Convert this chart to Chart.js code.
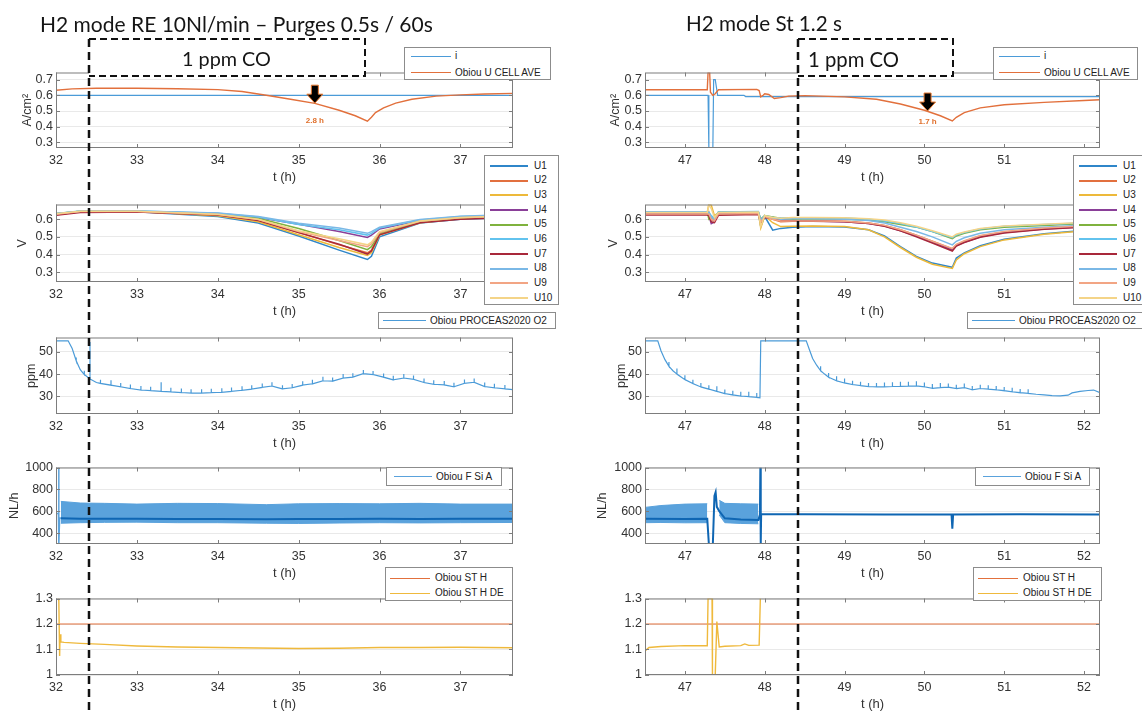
<!DOCTYPE html>
<html>
<head>
<meta charset="utf-8">
<script src="https://cdn.jsdelivr.net/npm/chart.js@4.4.1/dist/chart.umd.min.js"></script>
<style>
  html, body { margin: 0; padding: 0; background: #fff; }
  body { width: 1142px; height: 711px; position: relative; overflow: hidden; font-family: "Liberation Sans", Arial, sans-serif; }
  #overlay { position: absolute; left: 0; top: 0; z-index: 3; pointer-events: none; }
  .leg { position: absolute; z-index: 4; background: #fff; border: 1px solid #8c8c8c; box-sizing: border-box; font-size: 10px; color: #222; }
  .leg .ln { position: absolute; height: 0; }
  .leg .tx { position: absolute; white-space: nowrap; line-height: 12px; }
  .ttl { position: absolute; z-index: 4; font-family: Lato, "Open Sans", sans-serif; line-height: 1; white-space: nowrap; color: #151515; }
</style>
</head>
<body>
<canvas id="overlay" width="1142" height="711"></canvas>
<script>
// ---- ticks ----
const xTicksLeft = [32, 33, 34, 35, 36, 37];
const xTicksRight = [47, 48, 49, 50, 51, 52];
const yTicksCell = [0.3, 0.4, 0.5, 0.6, 0.7];
const yTicksU = [0.3, 0.4, 0.5, 0.6];
const yTicksO2 = [30, 40, 50];
const yTicksFlow = [400, 600, 800, 1000];
const yTicksST = [1, 1.1, 1.2, 1.3];

// CO injection start (h)
const coTimeLeft = 32.41;
const coTimeRight = 48.42;

// ---- panel 1 : i and U cell average ----
const iLeftT = [32, 37.65];
const iLeft = [0.6, 0.6];
const cellLeftT = [32.0, 32.2, 32.5, 33.0, 33.5, 34.0, 34.3, 34.6, 34.9, 35.2, 35.5, 35.7, 35.85, 35.9, 35.95, 36.05, 36.2, 36.4, 36.7, 37.0, 37.3, 37.65];
const cellLeft = [0.632, 0.641, 0.645, 0.645, 0.642, 0.636, 0.624, 0.6, 0.575, 0.549, 0.505, 0.47, 0.435, 0.46, 0.49, 0.52, 0.55, 0.575, 0.595, 0.603, 0.608, 0.612];
const iRightT = [46.5, 47.29, 47.3, 47.35, 47.36, 47.38, 47.41, 47.74, 47.76, 52.2];
const iRight = [0.6, 0.6, 0.26, 0.26, 0.7, 0.7, 0.6, 0.6, 0.592, 0.592];
const cellRightT = [46.5, 47.28, 47.29, 47.31, 47.32, 47.35, 47.38, 47.42, 47.9, 47.93, 47.95, 47.98, 48.0, 48.05, 48.12, 48.2, 48.3, 48.5, 49.0, 49.4, 49.7, 50.0, 50.2, 50.35, 50.4, 50.5, 50.7, 51.0, 51.5, 52.0, 52.2];
const cellRight = [0.635, 0.635, 0.745, 0.745, 0.62, 0.6, 0.61, 0.635, 0.638, 0.63, 0.59, 0.6, 0.61, 0.605, 0.58, 0.585, 0.595, 0.598, 0.59, 0.575, 0.545, 0.505, 0.47, 0.437, 0.46, 0.49, 0.52, 0.54, 0.555, 0.567, 0.572];
const arrowsLeft = [{ t: 35.2, v: 0.55, text: '2.8 h', dy: 18 }];
const arrowsRight = [{ t: 50.04, v: 0.5, text: '1.7 h', dy: 11 }];

// ---- panel 2 : cell voltages U1..U10 ----
const uLabels = ['U1', 'U2', 'U3', 'U4', 'U5', 'U6', 'U7', 'U8', 'U9', 'U10'];
const uLeftT = [32, 32.3, 33, 34, 34.5, 35, 35.5, 35.85, 35.9, 36, 36.5, 37, 37.65];
const uLeft = [
  [0.628, 0.642, 0.642, 0.615, 0.578, 0.505, 0.425, 0.372, 0.39, 0.5, 0.578, 0.6, 0.61],
  [0.627, 0.642, 0.642, 0.624, 0.594, 0.525, 0.455, 0.41, 0.425, 0.515, 0.582, 0.604, 0.614],
  [0.632, 0.645, 0.644, 0.62, 0.585, 0.512, 0.44, 0.395, 0.41, 0.51, 0.58, 0.602, 0.612],
  [0.625, 0.642, 0.643, 0.632, 0.61, 0.572, 0.53, 0.497, 0.51, 0.545, 0.592, 0.612, 0.622],
  [0.63, 0.645, 0.645, 0.63, 0.605, 0.547, 0.48, 0.428, 0.445, 0.52, 0.585, 0.606, 0.616],
  [0.632, 0.646, 0.646, 0.634, 0.612, 0.57, 0.54, 0.51, 0.52, 0.55, 0.595, 0.615, 0.625],
  [0.622, 0.638, 0.64, 0.624, 0.593, 0.524, 0.458, 0.403, 0.42, 0.512, 0.58, 0.6, 0.61],
  [0.63, 0.645, 0.646, 0.635, 0.615, 0.577, 0.55, 0.52, 0.53, 0.555, 0.598, 0.617, 0.627],
  [0.628, 0.643, 0.643, 0.626, 0.598, 0.53, 0.48, 0.445, 0.46, 0.525, 0.588, 0.608, 0.618],
  [0.63, 0.645, 0.645, 0.628, 0.6, 0.535, 0.49, 0.455, 0.47, 0.53, 0.59, 0.61, 0.62]
];
const uRightT = [46.5, 47.28, 47.3, 47.33, 47.37, 47.42, 47.92, 47.95, 48.0, 48.1, 48.2, 48.35, 48.6, 49.0, 49.3, 49.5, 49.7, 49.9, 50.1, 50.35, 50.4, 50.5, 50.7, 51.0, 51.5, 52.2];
const uRight = [
  [0.632, 0.632, 0.625, 0.6, 0.59, 0.63, 0.633, 0.56, 0.615, 0.538, 0.548, 0.555, 0.558, 0.556, 0.54, 0.505, 0.445, 0.39, 0.352, 0.328, 0.38, 0.41, 0.45, 0.487, 0.518, 0.545],
  [0.628, 0.628, 0.64, 0.6, 0.59, 0.63, 0.632, 0.58, 0.615, 0.6, 0.585, 0.588, 0.59, 0.588, 0.578, 0.565, 0.54, 0.51, 0.475, 0.432, 0.455, 0.475, 0.505, 0.528, 0.548, 0.566],
  [0.638, 0.638, 0.685, 0.68, 0.62, 0.636, 0.638, 0.55, 0.62, 0.58, 0.558, 0.56, 0.562, 0.558, 0.54, 0.5, 0.44, 0.385, 0.345, 0.322, 0.37, 0.405, 0.445, 0.483, 0.515, 0.542],
  [0.633, 0.633, 0.62, 0.575, 0.585, 0.632, 0.635, 0.59, 0.612, 0.61, 0.6, 0.592, 0.59, 0.586, 0.575, 0.562, 0.535, 0.505, 0.47, 0.425, 0.45, 0.47, 0.5, 0.525, 0.545, 0.562],
  [0.64, 0.64, 0.6, 0.61, 0.6, 0.64, 0.642, 0.6, 0.62, 0.612, 0.605, 0.6, 0.602, 0.6, 0.595, 0.585, 0.57, 0.555, 0.53, 0.49, 0.505, 0.52, 0.54, 0.555, 0.565, 0.58],
  [0.642, 0.642, 0.64, 0.62, 0.605, 0.64, 0.643, 0.595, 0.62, 0.61, 0.607, 0.608, 0.608, 0.606, 0.6, 0.59, 0.575, 0.555, 0.53, 0.495, 0.51, 0.525, 0.545, 0.56, 0.57, 0.583],
  [0.623, 0.623, 0.62, 0.585, 0.58, 0.622, 0.626, 0.58, 0.61, 0.605, 0.592, 0.59, 0.588, 0.585, 0.575, 0.56, 0.535, 0.5, 0.465, 0.42, 0.448, 0.468, 0.498, 0.522, 0.543, 0.56],
  [0.64, 0.64, 0.635, 0.61, 0.6, 0.638, 0.64, 0.59, 0.618, 0.605, 0.6, 0.602, 0.603, 0.6, 0.592, 0.578, 0.555, 0.53, 0.5, 0.455, 0.475, 0.495, 0.52, 0.54, 0.555, 0.572],
  [0.63, 0.63, 0.63, 0.6, 0.59, 0.63, 0.632, 0.585, 0.615, 0.6, 0.59, 0.59, 0.59, 0.588, 0.578, 0.565, 0.54, 0.51, 0.475, 0.435, 0.458, 0.478, 0.508, 0.53, 0.55, 0.567],
  [0.638, 0.638, 0.68, 0.66, 0.61, 0.638, 0.64, 0.56, 0.62, 0.61, 0.605, 0.61, 0.61, 0.608, 0.603, 0.595, 0.58, 0.56, 0.535, 0.5, 0.515, 0.528, 0.547, 0.562, 0.572, 0.585]
];
const uColors = ['#2f86c9', '#e2703f', '#edb93a', '#8a3f98', '#7fb23d', '#62c3ee', '#a8283a', '#7ab8e6', '#f2a584', '#f4d488'];

// ---- panel 3 : O2 (ppm), peak = purge spike top at that time ----
const o2LeftT = [32.0, 32.15, 32.2, 32.25, 32.3, 32.35, 32.42, 32.5, 32.55, 32.68, 32.8, 32.92, 33.05, 33.17, 33.3, 33.42, 33.55, 33.67, 33.8, 33.92, 34.05, 34.17, 34.3, 34.42, 34.55, 34.67, 34.8, 34.92, 35.05, 35.17, 35.3, 35.42, 35.55, 35.67, 35.8, 35.92, 36.05, 36.17, 36.3, 36.42, 36.55, 36.67, 36.8, 36.92, 37.05, 37.17, 37.3, 37.42, 37.55, 37.65];
const o2Left = [55, 55, 51.5, 46, 42, 39.8, 37.8, 36.2, 35.8, 35.0, 34.3, 33.5, 32.8, 32.5, 32.2, 32.0, 31.7, 31.4, 31.4, 31.6, 31.8, 32.2, 32.7, 33.2, 34.0, 34.6, 33.3, 33.8, 35.0, 35.6, 37.0, 36.8, 38.2, 38.6, 40.2, 39.8, 38.6, 37.4, 38.2, 37.6, 36.2, 35.4, 35.1, 34.3, 35.8, 36.3, 34.4, 33.8, 33.3, 33.0];
const o2LeftPeak = [null, null, null, 47.5, null, 41.5, 54.5, null, 37.5, 37.2, 36, 35.3, 34.6, 34.3, 36.3, 33.8, 33.5, 33.2, 33.2, 33.4, 33.6, 34, 34.5, 35, 35.8, 36.3, 35, 35.5, 36.8, 37.4, 38.8, 38.5, 40, 40.4, 41.8, 41.4, 40.3, 39.2, 40, 39.4, 38, 37.2, 36.9, 36.1, 37.6, 38, 36.2, 35.6, 35.1, null];
const o2RightT = [46.5, 46.66, 46.7, 46.75, 46.8, 46.85, 46.9, 47.0, 47.1, 47.2, 47.3, 47.4, 47.5, 47.6, 47.7, 47.8, 47.9, 47.94, 47.95, 48.52, 48.56, 48.6, 48.65, 48.7, 48.75, 48.8, 48.9, 49.0, 49.1, 49.2, 49.3, 49.4, 49.5, 49.6, 49.7, 49.8, 49.9, 50.0, 50.1, 50.2, 50.3, 50.4, 50.5, 50.6, 50.7, 50.8, 50.9, 51.0, 51.1, 51.2, 51.3, 51.4, 51.5, 51.6, 51.7, 51.8, 51.85, 51.95, 52.05, 52.12, 52.2];
const o2Right = [55, 55, 50.5, 46.5, 43.5, 41.5, 40, 37.5, 35.7, 34.2, 33.2, 32.2, 31.2, 30.6, 30.1, 29.8, 29.5, 29.3, 55, 55, 51, 47, 44, 41.5, 40, 38.6, 37, 36, 35.3, 34.8, 34.4, 34.2, 34.2, 34.4, 34.5, 34.6, 34.7, 34.3, 33.6, 33.9, 34.1, 33.5, 33.9, 32.9, 33.5, 33.2, 32.9, 32.5, 32.0, 31.6, 31.3, 30.9, 30.6, 30.3, 30.2, 30.5, 31.5, 32.2, 32.6, 32.8, 31.6];
const o2RightPeak = [null, null, null, null, 45.5, null, 42.5, 39.5, 37.5, 36, 35, 34.5, 33, 32.5, 32, 32, 31.5, null, null, null, null, null, null, 43.5, null, 40.5, 39, 38, 37, 36.5, 36, 36, 36.2, 36.3, 36.5, 36.6, 36.8, 36.2, 35.5, 36, 35.8, 35.2, 35.8, 34.6, 35.2, 35, 34.6, 34.2, 33.8, 33.3, 33.2, null, null, null, null, null, null, null, null, null, null];

// ---- panel 4 : F Si A (NL/h), oscillating band = upper / lower envelope ----
const fsiLeftT = [32.06, 32.3, 32.6, 33, 33.5, 34, 34.6, 35, 35.5, 36, 36.5, 37, 37.65];
const fsiLeftHi = [690, 675, 672, 665, 672, 670, 660, 668, 670, 668, 672, 665, 665];
const fsiLeftLo = [490, 495, 498, 500, 495, 495, 490, 488, 492, 495, 493, 495, 497];
const fsiLeftMid = [535, 532, 530, 530, 528, 528, 527, 528, 528, 530, 529, 530, 530];
const fsiLeftStartT = [32.0, 32.03, 32.033, 32.037, 32.045, 32.06];
const fsiLeftStart = [578, 578, 1000, 300, 540, 535];
const fsiRightAT = [46.5, 46.7, 47.0, 47.28];
const fsiRightAHi = [635, 652, 665, 668];
const fsiRightALo = [495, 497, 494, 495];
const fsiRightBT = [47.43, 47.5, 47.7, 47.92];
const fsiRightBHi = [700, 672, 668, 665];
const fsiRightBLo = [565, 495, 488, 485];
const fsiRightMidT = [46.5, 47.0, 47.28, 47.3, 47.35, 47.37, 47.385, 47.4, 47.43, 47.5, 47.7, 47.92, 47.94, 47.945, 47.95, 47.955, 48.5, 49.5, 50.34, 50.35, 50.36, 51.2, 52.2];
const fsiRightMid = [530, 528, 530, 300, 300, 740, 775, 640, 600, 535, 525, 520, 570, 1000, 300, 575, 572, 570, 570, 440, 570, 572, 570];

// ---- panel 5 : ST H / ST H DE ----
const stLeftT = [32, 37.65];
const stLeft = [1.2, 1.2];
const stdeLeftT = [32.03, 32.035, 32.045, 32.05, 32.06, 32.1, 32.3, 32.6, 33.0, 33.5, 34.0, 34.5, 35.0, 35.5, 36.0, 36.5, 37.0, 37.65];
const stdeLeft = [1.3, 1.29, 1.075, 1.16, 1.13, 1.128, 1.124, 1.12, 1.114, 1.11, 1.108, 1.106, 1.104, 1.105, 1.108, 1.108, 1.109, 1.107];
const stRightT = [46.5, 52.2];
const stRight = [1.2, 1.2];
const stdeRightT = [46.5, 46.55, 46.7, 47.0, 47.28, 47.29, 47.34, 47.345, 47.38, 47.4, 47.43, 47.5, 47.7, 47.75, 47.8, 47.93, 47.945];
const stdeRight = [1.094, 1.108, 1.112, 1.115, 1.115, 1.3, 1.3, 1.0, 1.0, 1.21, 1.11, 1.113, 1.115, 1.122, 1.116, 1.117, 1.3];

const cBlue = '#4b9bd8', cOrange = '#e2703c', cYellow = '#efb93c';
const cBand = '#5aa2dc', cBandMid = '#0f66b3';

// ---- layout ----
const cols = [
  { l: 56, w: 457, padL: 56, xMin: 32, xMax: 37.65, xTicks: xTicksLeft },
  { l: 645, w: 455, padL: 75, xMin: 46.5, xMax: 52.2, xTicks: xTicksRight }
];
const rows = [
  { t: 66, h: 82, min: 0.265, max: 0.745, ticks: yTicksCell, title: 'A/cm²', tpad: [19.6, 38.4] },
  { t: 198, h: 84, min: 0.245, max: 0.683, ticks: yTicksU, title: 'V', tpad: [15.2, 35.7] },
  { t: 331, h: 83, min: 22, max: 56.5, ticks: yTicksO2, title: 'ppm', tpad: [23.6, 43.6] },
  { t: 461, h: 83, min: 300, max: 1000, ticks: yTicksFlow, title: 'NL/h', tpad: [6.6, 24.6] },
  { t: 592, h: 83, min: 1, max: 1.3, ticks: yTicksST, title: '', tpad: [0, 0] }
];

Chart.defaults.font.family = '"Liberation Sans", Arial, sans-serif';
Chart.defaults.color = '#333';

const fmt = v => String(Math.round(v * 100) / 100);

function lineDs(label, xs, ys, color, width) {
  return {
    label: label,
    data: xs.map((x, i) => ({ x: x, y: ys[i] })),
    borderColor: color, backgroundColor: color,
    borderWidth: width || 1.2, pointRadius: 0, fill: false
  };
}

function spikeDs(label, xs, ys, peaks, color) {
  const pts = [];
  xs.forEach((x, i) => {
    pts.push({ x: x, y: ys[i] });
    if (peaks[i] != null) {
      pts.push({ x: x, y: peaks[i] });
      pts.push({ x: x, y: ys[i] });
    }
  });
  return { label: label, data: pts, borderColor: color, borderWidth: 1.2, pointRadius: 0, fill: false };
}

const boxPlugin = {
  id: 'matlabBox',
  afterDatasetsDraw(chart) {
    const { ctx, chartArea: a, scales: { x, y } } = chart;
    ctx.save();
    ctx.strokeStyle = '#7d7d7d';
    ctx.lineWidth = 1;
    ctx.strokeRect(a.left + 0.5, a.top + 0.5, a.width - 1, a.height - 1);
    ctx.beginPath();
    x.ticks.forEach(t => {
      const px = Math.round(x.getPixelForValue(t.value)) + 0.5;
      ctx.moveTo(px, a.bottom); ctx.lineTo(px, a.bottom - 4);
      ctx.moveTo(px, a.top); ctx.lineTo(px, a.top + 4);
    });
    y.ticks.forEach(t => {
      const py = Math.round(y.getPixelForValue(t.value)) + 0.5;
      ctx.moveTo(a.left, py); ctx.lineTo(a.left + 4, py);
      ctx.moveTo(a.right, py); ctx.lineTo(a.right - 4, py);
    });
    ctx.stroke();
    ctx.restore();
  }
};

function arrowPlugin(items) {
  return {
    id: 'arrows',
    afterDatasetsDraw(chart) {
      const { ctx, scales: { x, y } } = chart;
      ctx.save();
      items.forEach(a => {
        const px = x.getPixelForValue(a.t), py = y.getPixelForValue(a.v);
        ctx.beginPath();
        ctx.moveTo(px, py);
        ctx.lineTo(px - 8, py - 9);
        ctx.lineTo(px - 3.5, py - 9);
        ctx.lineTo(px - 3.5, py - 18);
        ctx.lineTo(px + 3.5, py - 18);
        ctx.lineTo(px + 3.5, py - 9);
        ctx.lineTo(px + 8, py - 9);
        ctx.closePath();
        ctx.fillStyle = '#000';
        ctx.fill();
        ctx.strokeStyle = '#e8782f';
        ctx.lineWidth = 1;
        ctx.stroke();
        ctx.font = 'bold 8px "Liberation Sans", Arial';
        ctx.fillStyle = '#e0702c';
        ctx.textAlign = 'center';
        ctx.textBaseline = 'middle';
        ctx.fillText(a.text, px, py + a.dy);
      });
      ctx.restore();
    }
  };
}

function makePanel(c, r, datasets, extra) {
  const col = cols[c], row = rows[r];
  const padT = 4, padR = 4, padB = 40;
  const W = col.w + col.padL + padR, H = row.h + padT + padB;
  const cv = document.createElement('canvas');
  cv.width = W; cv.height = H;
  cv.style.cssText = `position:absolute;z-index:1;left:${col.l - col.padL}px;top:${row.t - padT}px;width:${W}px;height:${H}px`;
  document.body.appendChild(cv);
  const ch = new Chart(cv, {
    type: 'line',
    data: { datasets: datasets },
    options: {
      responsive: false, animation: false, devicePixelRatio: 1,
      layout: { padding: { top: padT, right: padR, left: 0, bottom: 0 } },
      plugins: { legend: { display: false }, tooltip: { enabled: false } },
      elements: { point: { radius: 0 }, line: { tension: 0 } },
      scales: {
        x: {
          type: 'linear', min: col.xMin, max: col.xMax,
          afterBuildTicks: s => { s.ticks = col.xTicks.map(v => ({ value: v })); },
          afterFit: s => { s.height = padB; },
          grid: { display: false, drawTicks: false }, border: { display: false },
          ticks: { autoSkip: false, maxRotation: 0, padding: 5.5, font: { size: 12.5 }, callback: fmt },
          title: { display: true, text: 't (h)', font: { size: 13 }, padding: { top: 0, bottom: 3 } }
        },
        y: {
          min: row.min, max: row.max,
          afterBuildTicks: s => { s.ticks = row.ticks.map(v => ({ value: v })); },
          afterFit: s => { s.width = col.padL; },
          grid: { color: '#e9e9e9', drawTicks: false }, border: { display: false },
          ticks: { autoSkip: false, padding: 3, font: { size: 12.5 }, callback: fmt },
          title: { display: row.title !== '', text: row.title, font: { size: 12.5 }, padding: { top: row.tpad[c], bottom: 0 } }
        }
      }
    },
    plugins: [boxPlugin].concat(extra || [])
  });
  ch.$left = col.l - col.padL;
  return ch;
}

function addLegend(x, y, w, h, items, o) {
  const d = document.createElement('div');
  d.className = 'leg';
  d.style.cssText = `left:${x}px;top:${y}px;width:${w}px;height:${h}px`;
  items.forEach((it, i) => {
    const cy = o.first + i * o.step;
    const ln = document.createElement('div');
    ln.className = 'ln';
    ln.style.cssText = `left:${o.lx}px;top:${cy - o.lw / 2}px;width:${o.ll}px;border-top:${o.lw}px solid ${it.color}`;
    const tx = document.createElement('div');
    tx.className = 'tx';
    tx.style.cssText = `left:${o.tx}px;top:${cy - 6.5}px`;
    tx.textContent = it.label;
    d.appendChild(ln);
    d.appendChild(tx);
  });
  document.body.appendChild(d);
}

function addText(txt, left, cy, width, size) {
  const el = document.createElement('div');
  el.className = 'ttl';
  el.textContent = txt;
  el.style.fontSize = size + 'px';
  el.style.left = left + 'px';
  document.body.appendChild(el);
  const w = el.getBoundingClientRect().width;
  el.style.fontSize = (size * width / w) + 'px';
  el.style.top = (cy - el.offsetHeight / 2) + 'px';
}

// ---- build charts ----
const charts = {};
charts.cellL = makePanel(0, 0, [
  lineDs('Obiou U CELL AVE', cellLeftT, cellLeft, cOrange, 1.4),
  lineDs('i', iLeftT, iLeft, cBlue, 1.2)
], [arrowPlugin(arrowsLeft)]);
charts.cellR = makePanel(1, 0, [
  lineDs('Obiou U CELL AVE', cellRightT, cellRight, cOrange, 1.4),
  lineDs('i', iRightT, iRight, cBlue, 1.2)
], [arrowPlugin(arrowsRight)]);

charts.uL = makePanel(0, 1, uLabels.map((u, i) => Object.assign(lineDs(u, uLeftT, uLeft[i], uColors[i], 1.5), { order: 10 - i })));
charts.uR = makePanel(1, 1, uLabels.map((u, i) => Object.assign(lineDs(u, uRightT, uRight[i], uColors[i], 1.5), { order: 10 - i })));

charts.o2L = makePanel(0, 2, [spikeDs('Obiou PROCEAS2020 O2', o2LeftT, o2Left, o2LeftPeak, cBlue)]);
charts.o2R = makePanel(1, 2, [spikeDs('Obiou PROCEAS2020 O2', o2RightT, o2Right, o2RightPeak, cBlue)]);

charts.fL = makePanel(0, 3, [
  lineDs('Obiou F Si A', fsiLeftT, fsiLeftMid, cBandMid, 2),
  lineDs('', fsiLeftStartT, fsiLeftStart, cBand, 1.5),
  Object.assign(lineDs('', fsiLeftT, fsiLeftHi, cBand, 1), { fill: '+1', backgroundColor: cBand }),
  lineDs('', fsiLeftT, fsiLeftLo, cBand, 1)
]);
charts.fR = makePanel(1, 3, [
  lineDs('Obiou F Si A', fsiRightMidT, fsiRightMid, cBandMid, 2),
  Object.assign(lineDs('', fsiRightAT, fsiRightAHi, cBand, 1), { fill: '+1', backgroundColor: cBand }),
  lineDs('', fsiRightAT, fsiRightALo, cBand, 1),
  Object.assign(lineDs('', fsiRightBT, fsiRightBHi, cBand, 1), { fill: '+1', backgroundColor: cBand }),
  lineDs('', fsiRightBT, fsiRightBLo, cBand, 1)
]);

charts.stL = makePanel(0, 4, [
  lineDs('Obiou ST H DE', stdeLeftT, stdeLeft, cYellow, 1.4),
  lineDs('Obiou ST H', stLeftT, stLeft, cOrange, 1.2)
]);
charts.stR = makePanel(1, 4, [
  lineDs('Obiou ST H DE', stdeRightT, stdeRight, cYellow, 1.4),
  lineDs('Obiou ST H', stRightT, stRight, cOrange, 1.2)
]);

// ---- CO markers: text boxes and dashed vertical lines ----
function drawOverlay() {
  const ctx = document.getElementById('overlay').getContext('2d');
  const xl = Math.round(charts.cellL.scales.x.getPixelForValue(coTimeLeft) + charts.cellL.$left);
  const xr = Math.round(charts.cellR.scales.x.getPixelForValue(coTimeRight) + charts.cellR.$left);
  [[xl, 365], [xr, 953]].forEach(([x0, x1]) => {
    ctx.fillStyle = '#fff';
    ctx.fillRect(x0, 39, x1 - x0, 37);
    ctx.strokeStyle = '#111';
    ctx.setLineDash([7, 4]);
    ctx.lineWidth = 2;
    ctx.beginPath();
    ctx.moveTo(x0, 39); ctx.lineTo(x1, 39); ctx.lineTo(x1, 76); ctx.lineTo(x0, 76);
    ctx.stroke();
    ctx.setLineDash([8, 5]);
    ctx.lineWidth = 2.5;
    ctx.beginPath();
    ctx.moveTo(x0, 39); ctx.lineTo(x0, 711);
    ctx.stroke();
  });
}
drawOverlay();

addText('H2 mode RE 10Nl/min – Purges 0.5s / 60s', 40, 23, 393, 20);
addText('H2 mode St 1.2 s', 686, 23, 156, 20);
addText('1 ppm CO', 182, 59, 89, 20);
addText('1 ppm CO', 808, 59, 91, 20);

// ---- legends ----
const legCell = [{ label: 'i', color: cBlue }, { label: 'Obiou U CELL AVE', color: cOrange }];
const legU = uLabels.map((u, i) => ({ label: u, color: uColors[i] }));
const legO2 = [{ label: 'Obiou PROCEAS2020 O2', color: cBlue }];
const legF = [{ label: 'Obiou F Si A', color: cBand }];
const legST = [{ label: 'Obiou ST H', color: cOrange }, { label: 'Obiou ST H DE', color: cYellow }];

addLegend(404, 47, 147, 33, legCell, { first: 8.5, step: 16.5, lx: 6, ll: 40, tx: 50, lw: 1.5 });
addLegend(993, 47, 145, 33, legCell, { first: 8.5, step: 16.5, lx: 5, ll: 41, tx: 50, lw: 1.5 });
addLegend(484, 155, 75, 150, legU, { first: 10, step: 14.67, lx: 5, ll: 38, tx: 49, lw: 2 });
addLegend(1073, 155, 75, 150, legU, { first: 10, step: 14.67, lx: 5, ll: 38, tx: 49, lw: 2 });
addLegend(378, 312, 178, 17, legO2, { first: 8, step: 0, lx: 4, ll: 43, tx: 51, lw: 1.5 });
addLegend(967, 312, 180, 17, legO2, { first: 8, step: 0, lx: 4, ll: 43, tx: 51, lw: 1.5 });
addLegend(386, 467, 116, 19, legF, { first: 9, step: 0, lx: 7, ll: 38, tx: 49, lw: 1.5 });
addLegend(975, 467, 115, 19, legF, { first: 9, step: 0, lx: 7, ll: 38, tx: 49, lw: 1.5 });
addLegend(385, 567, 128, 34, legST, { first: 10.5, step: 15, lx: 4, ll: 40, tx: 49, lw: 1.5 });
addLegend(973, 567, 129, 34, legST, { first: 10.5, step: 15, lx: 4, ll: 40, tx: 49, lw: 1.5 });
</script>
</body>
</html>
